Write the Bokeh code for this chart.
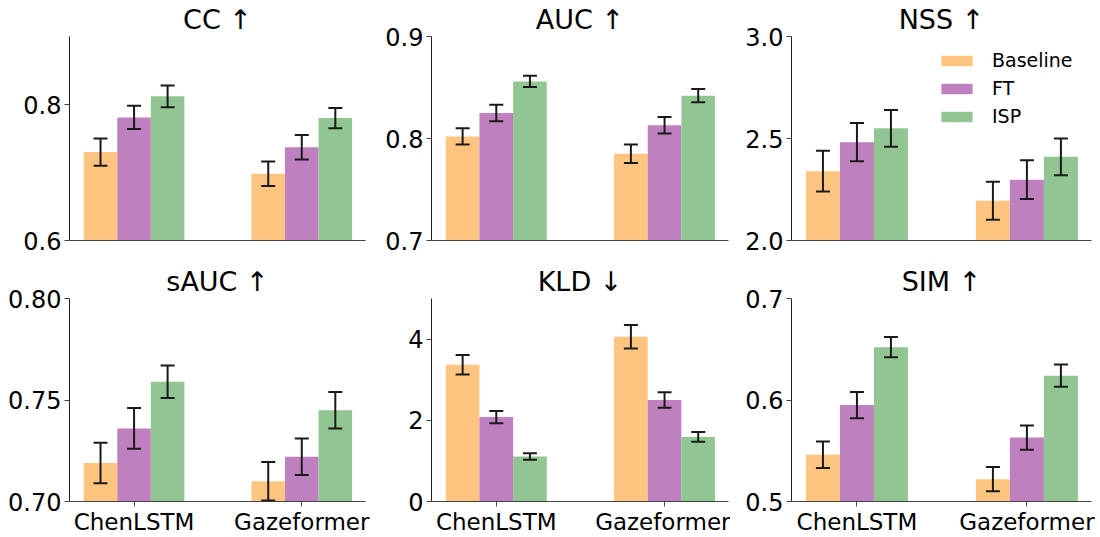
from bokeh.plotting import figure
from bokeh.layouts import column, row
from bokeh.models import (ColumnDataSource, Range1d, FixedTicker, Whisker, TeeHead,
                          Legend, LegendItem, PrintfTickFormatter)
from bokeh.transform import dodge
from bokeh.embed import file_html
from bokeh.resources import INLINE

# ---------------- data ----------------
models = ["ChenLSTM", "Gazeformer"]
methods = ["Baseline", "FT", "ISP"]
colors = ["#ffc580", "#bf80bf", "#91c591"]

CC_MEAN = {"Baseline": [0.730, 0.698], "FT": [0.781, 0.737], "ISP": [0.812, 0.780]}
CC_ERR = {"Baseline": [0.020, 0.018], "FT": [0.017, 0.018], "ISP": [0.016, 0.015]}

AUC_MEAN = {"Baseline": [0.802, 0.785], "FT": [0.825, 0.813], "ISP": [0.856, 0.842]}
AUC_ERR = {"Baseline": [0.008, 0.009], "FT": [0.008, 0.008], "ISP": [0.0055, 0.0065]}

NSS_MEAN = {"Baseline": [2.34, 2.195], "FT": [2.482, 2.298], "ISP": [2.55, 2.41]}
NSS_ERR = {"Baseline": [0.10, 0.093], "FT": [0.094, 0.095], "ISP": [0.09, 0.09]}

SAUC_MEAN = {"Baseline": [0.719, 0.710], "FT": [0.736, 0.722], "ISP": [0.759, 0.745]}
SAUC_ERR = {"Baseline": [0.010, 0.0095], "FT": [0.010, 0.009], "ISP": [0.008, 0.009]}

KLD_MEAN = {"Baseline": [3.37, 4.06], "FT": [2.08, 2.50], "ISP": [1.11, 1.59]}
KLD_ERR = {"Baseline": [0.24, 0.29], "FT": [0.15, 0.19], "ISP": [0.08, 0.12]}

SIM_MEAN = {"Baseline": [0.546, 0.522], "FT": [0.595, 0.563], "ISP": [0.652, 0.624]}
SIM_ERR = {"Baseline": [0.013, 0.012], "FT": [0.013, 0.012], "ISP": [0.010, 0.011]}

CC_TICKS = [0.6, 0.8]
AUC_TICKS = [0.7, 0.8, 0.9]
NSS_TICKS = [2.0, 2.5, 3.0]
SAUC_TICKS = [0.70, 0.75, 0.80]
KLD_TICKS = [0, 2, 4]
SIM_TICKS = [0.5, 0.6, 0.7]

panels = [
    ("CC ↑", CC_MEAN, CC_ERR, (0.6, 0.9), CC_TICKS, "%.1f"),
    ("AUC ↑", AUC_MEAN, AUC_ERR, (0.7, 0.9), AUC_TICKS, "%.1f"),
    ("NSS ↑", NSS_MEAN, NSS_ERR, (2.0, 3.0), NSS_TICKS, "%.1f"),
    ("sAUC ↑", SAUC_MEAN, SAUC_ERR, (0.70, 0.80), SAUC_TICKS, "%.2f"),
    ("KLD ↓", KLD_MEAN, KLD_ERR, (0, 5), KLD_TICKS, "%.0f"),
    ("SIM ↑", SIM_MEAN, SIM_ERR, (0.5, 0.7), SIM_TICKS, "%.1f"),
]

# ---------------- layout ----------------
FONT = "DejaVu Sans"
col_w = [370, 360, 370]
col_bl = [69, 61, 61]
col_br = [5, 2, 9]
row_h = [260, 277]
row_bt = [35, 38]
row_bb = [20, 35]
offsets = [-0.2, 0.0, 0.2]
bar_w = 0.2
positions = list(range(len(models)))

figs = []
for i, (title, means, errs, yr, yticks, fmt) in enumerate(panels):
    r, c = divmod(i, 3)
    p = figure(width=col_w[c], height=row_h[r], output_backend="svg", toolbar_location=None,
               x_range=Range1d(-0.385, 1.38), y_range=Range1d(*yr),
               min_border_left=col_bl[c], min_border_right=col_br[c],
               min_border_top=row_bt[r], min_border_bottom=row_bb[r])
    p.title.text = title
    p.title.align = "center"
    p.title.text_font = FONT
    p.title.text_font_size = "27px"
    p.title.text_font_style = "normal"
    p.title.text_color = "black"
    p.title.standoff = 3
    p.outline_line_color = None
    p.xgrid.visible = False
    p.ygrid.visible = False
    p.background_fill_color = "white"
    p.border_fill_color = "white"

    rends = []
    for m, col, off in zip(methods, colors, offsets):
        mean = means[m]
        err = errs[m]
        src = ColumnDataSource(dict(
            x=positions, top=mean,
            upper=[a + b for a, b in zip(mean, err)],
            lower=[a - b for a, b in zip(mean, err)]))
        rr = p.vbar(x=dodge("x", off), top="top", width=bar_w, source=src,
                    fill_color=col, line_color=None)
        rends.append(rr)
        w = Whisker(base=dodge("x", off), upper="upper", lower="lower", source=src,
                    line_color="#1a1a1a", line_width=2, level="overlay",
                    upper_head=TeeHead(size=14, line_color="#1a1a1a", line_width=2),
                    lower_head=TeeHead(size=14, line_color="#1a1a1a", line_width=2))
        p.add_layout(w)

    # y axis
    ya = p.yaxis[0]
    ya.ticker = FixedTicker(ticks=yticks)
    ya.formatter = PrintfTickFormatter(format=fmt)
    ya.major_label_text_font = FONT
    ya.major_label_text_font_size = "24px"
    ya.major_label_text_color = "black"
    ya.axis_line_color = "#222222"
    ya.major_tick_line_color = "#444444"
    ya.major_tick_out = 5
    ya.major_tick_in = 0
    ya.minor_tick_line_color = None
    ya.major_label_standoff = 3

    # x axis
    xa = p.xaxis[0]
    xa.axis_line_color = "#444444"
    xa.minor_tick_line_color = None
    xa.major_tick_in = 0
    if r == 0:
        xa.ticker = FixedTicker(ticks=[])
        xa.major_tick_line_color = None
        xa.major_tick_out = 0
    else:
        xa.ticker = FixedTicker(ticks=positions)
        xa.major_label_overrides = {pos: name for pos, name in zip(positions, models)}
        xa.major_label_text_font = FONT
        xa.major_label_text_font_size = "23px"
        xa.major_label_text_color = "black"
        xa.major_tick_line_color = "#444444"
        xa.major_tick_out = 5
        xa.major_label_standoff = 2

    if title.startswith("NSS"):
        leg = Legend(items=[LegendItem(label=m, renderers=[rr]) for m, rr in zip(methods, rends)],
                     location=(146, 113))
        leg.border_line_color = None
        leg.background_fill_alpha = 0
        leg.label_text_font = FONT
        leg.label_text_font_size = "19px"
        leg.label_text_color = "black"
        leg.glyph_width = 39
        leg.glyph_height = 13
        leg.label_standoff = 16
        leg.label_height = 22
        leg.spacing = 6
        leg.padding = 0
        leg.margin = 0
        p.add_layout(leg)
    figs.append(p)

layout = column(row(*figs[:3]), row(*figs[3:]))
open("out.html", "w").write(file_html(layout, INLINE))
